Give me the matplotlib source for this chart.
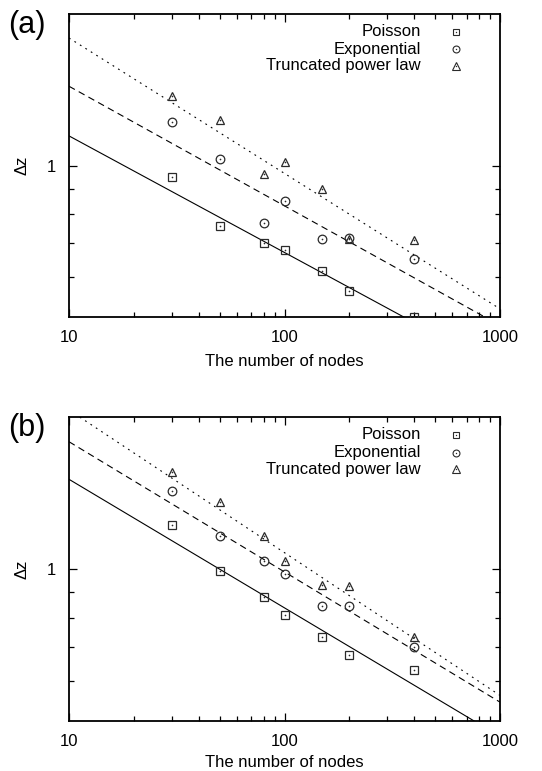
import matplotlib
matplotlib.use("Agg")
import matplotlib.pyplot as plt
from matplotlib.ticker import FixedLocator, NullFormatter, FixedFormatter

plt.rcParams['font.family'] = ['Liberation Sans', 'DejaVu Sans']

# ---------------- data ----------------
nodes = [30, 50, 80, 100, 150, 200, 400]

a_poisson = [0.948, 0.757, 0.700, 0.678, 0.617, 0.564, 0.501]
a_expon = [1.221, 1.031, 0.769, 0.851, 0.713, 0.718, 0.651]
a_trunc = [1.372, 1.232, 0.962, 1.015, 0.899, 0.714, 0.711]

b_poisson = [1.226, 0.992, 0.879, 0.813, 0.734, 0.677, 0.630]
b_expon = [1.426, 1.161, 1.036, 0.980, 0.846, 0.847, 0.702]
b_trunc = [1.556, 1.359, 1.161, 1.037, 0.930, 0.926, 0.734]

fit_x = [10, 1000]
a_fit_poisson = [1.145, 0.394]
a_fit_expon = [1.437, 0.481]
a_fit_trunc = [1.792, 0.519]
b_fit_poisson = [1.507, 0.466]
b_fit_expon = [1.789, 0.545]
b_fit_trunc = [2.068, 0.562]

series_names = ["Poisson", "Exponential", "Truncated power law"]
x_ticks = [10, 100, 1000]
x_ticklabels = ["10", "100", "1000"]
y_ticks = [1]
y_ticklabels = ["1"]
panel_labels = ["(a)", "(b)"]

# ---------------- styling ----------------
W, H = 542, 771
fig = plt.figure(figsize=(W / 100, H / 100), dpi=100)

mcol = '#2a2a2a'
marker_specs = [('s', 5.8), ('o', 6.2), ('^', 6.4)]
line_styles = ['-', (0, (6, 4)), (0, (1.6, 4.2))]

def draw_panel(ax, pts, fits, xlabelpad):
    for ys, (m, ms) in zip(pts, marker_specs):
        ax.plot(nodes, ys, linestyle='none', marker=m, ms=ms, mfc='none',
                mec=mcol, mew=0.9, zorder=3)
        ax.plot(nodes, ys, linestyle='none', marker='o', ms=1.2, mfc=mcol,
                mec='none', zorder=4)
    for fy, ls in zip(fits, line_styles):
        ax.plot(fit_x, fy, color='black', lw=0.8, linestyle=ls, zorder=2)
    ax.set_xscale('log')
    ax.set_yscale('log')
    ax.set_xlim(10, 1000)
    ax.set_ylim(0.5, 2.0)
    ax.xaxis.set_major_locator(FixedLocator(x_ticks))
    ax.xaxis.set_major_formatter(FixedFormatter(x_ticklabels))
    ax.xaxis.set_minor_locator(FixedLocator([20, 30, 40, 50, 60, 70, 80, 90,
                                             200, 300, 400, 500, 600, 700, 800, 900]))
    ax.xaxis.set_minor_formatter(NullFormatter())
    ax.yaxis.set_major_locator(FixedLocator(y_ticks))
    ax.yaxis.set_major_formatter(FixedFormatter(y_ticklabels))
    ax.yaxis.set_minor_locator(FixedLocator([0.6, 0.7, 0.8, 0.9]))
    ax.yaxis.set_minor_formatter(NullFormatter())
    ax.tick_params(which='both', direction='in', top=True, right=True,
                   labelsize=12, width=0.9)
    ax.tick_params(which='major', length=6, pad=9.5)
    ax.tick_params(which='minor', length=3.5)
    for s in ax.spines.values():
        s.set_linewidth(1.3)
    ax.set_xlabel("The number of nodes", fontsize=12, labelpad=xlabelpad)
    ax.set_ylabel("Δz", fontsize=12, labelpad=12)
    # legend (manual, gnuplot style)
    rows = [0.942, 0.8835, 0.829]
    for name, r, (m, ms) in zip(series_names, rows, marker_specs):
        ax.text(0.816, r, name, transform=ax.transAxes, ha='right',
                va='center', fontsize=12)
        ax.plot([0.897], [r], transform=ax.transAxes, marker=m, ms=ms * 0.8,
                mfc='none', mec=mcol, mew=0.8, clip_on=False)
        ax.plot([0.897], [r], transform=ax.transAxes, marker='o', ms=1.0,
                mfc=mcol, mec='none', clip_on=False)

left = 69 / W
width = (500 - 69) / W
ax1 = fig.add_axes([left, 1 - 317 / H, width, (317 - 14) / H])
ax2 = fig.add_axes([left, 1 - 721 / H, width, (721 - 417.3) / H])

draw_panel(ax1, [a_poisson, a_expon, a_trunc],
           [a_fit_poisson, a_fit_expon, a_fit_trunc], 6.5)
draw_panel(ax2, [b_poisson, b_expon, b_trunc],
           [b_fit_poisson, b_fit_expon, b_fit_trunc], 4.5)

fig.text(8 / W, 1 - 25 / H, panel_labels[0], fontsize=22, ha='left', va='center')
fig.text(8 / W, 1 - 428 / H, panel_labels[1], fontsize=22, ha='left', va='center')

fig.savefig("out.png", dpi=100)
